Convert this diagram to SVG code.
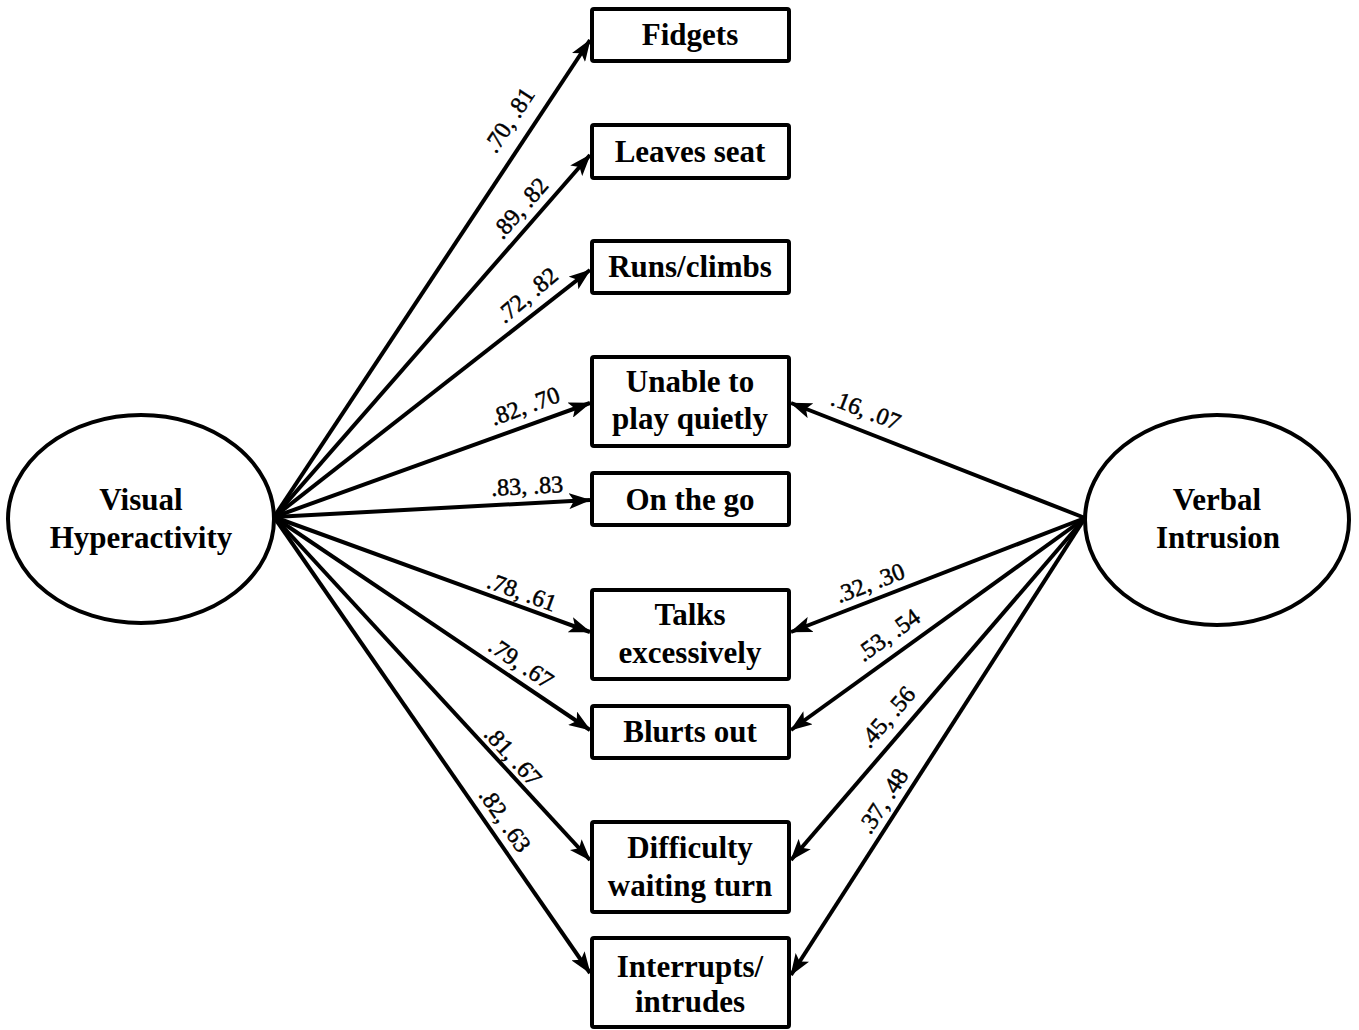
<svg xmlns="http://www.w3.org/2000/svg" width="1359" height="1030" viewBox="0 0 1359 1030">
<style>
.box{fill:#fff;stroke:#000;stroke-width:4}
.ell{fill:#fff;stroke:#000;stroke-width:4}
.nt{font-family:"Liberation Serif","Times New Roman",serif;font-weight:bold;font-size:31px;text-anchor:middle;fill:#000}
.lb{font-family:"Liberation Serif","Times New Roman",serif;font-size:24px;text-anchor:middle;fill:#000;stroke:#000;stroke-width:0.5}
.ln{stroke:#000;stroke-width:4;fill:none;marker-end:url(#ah)}
</style>
<defs>
<marker id="ah" markerUnits="userSpaceOnUse" markerWidth="22" markerHeight="16" refX="21" refY="8" orient="auto">
<path d="M0,0 L22,8 L0,16 L5,8 Z" fill="#000"/>
</marker>
</defs>
<rect width="1359" height="1030" fill="#fff"/>
<g id="connectors">
<line class="ln" x1="274" y1="517" x2="590" y2="40"/>
<line class="ln" x1="274" y1="517" x2="590" y2="155"/>
<line class="ln" x1="274" y1="517" x2="590" y2="270"/>
<line class="ln" x1="274" y1="517" x2="590" y2="403"/>
<line class="ln" x1="274" y1="517" x2="590" y2="500"/>
<line class="ln" x1="274" y1="517" x2="590" y2="632"/>
<line class="ln" x1="274" y1="517" x2="590" y2="730"/>
<line class="ln" x1="274" y1="517" x2="590" y2="860"/>
<line class="ln" x1="274" y1="517" x2="590" y2="973"/>
<line class="ln" x1="1085" y1="518" x2="791" y2="403"/>
<line class="ln" x1="1085" y1="518" x2="791" y2="632"/>
<line class="ln" x1="1085" y1="518" x2="791" y2="730"/>
<line class="ln" x1="1085" y1="518" x2="791" y2="860"/>
<line class="ln" x1="1085" y1="518" x2="791" y2="975"/>
<g id="labels">
<text class="lb" transform="translate(509,120) rotate(-56.6)" y="8">.70, .81</text>
<text class="lb" transform="translate(520,208) rotate(-49)" y="8">.89, .82</text>
<text class="lb" transform="translate(527,295) rotate(-40)" y="8">.72, .82</text>
<text class="lb" transform="translate(525,406) rotate(-19.9)" y="8">.82, .70</text>
<text class="lb" transform="translate(527,486) rotate(-3.1)" y="8">.83, .83</text>
<text class="lb" transform="translate(522,592) rotate(20)" y="8">.78, .61</text>
<text class="lb" transform="translate(521,663) rotate(34)" y="8">.79, .67</text>
<text class="lb" transform="translate(513,756) rotate(47.4)" y="8">.81, .67</text>
<text class="lb" transform="translate(505,820) rotate(55.4)" y="8">.82, .63</text>
<text class="lb" transform="translate(866,410) rotate(21.3)" y="8">.16, .07</text>
<text class="lb" transform="translate(870,583) rotate(-21)" y="8">.32, .30</text>
<text class="lb" transform="translate(888,635) rotate(-35.7)" y="8">.53, .54</text>
<text class="lb" transform="translate(887,717) rotate(-49.2)" y="8">.45, .56</text>
<text class="lb" transform="translate(883,801) rotate(-57.2)" y="8">.37, .48</text>
</g>
</g>
<g id="visual-hyperactivity">
<ellipse class="ell" cx="141" cy="519" rx="133" ry="104"/>
<text class="nt" x="141" y="510">Visual</text>
<text class="nt" x="141" y="548">Hyperactivity</text>
</g>
<g id="verbal-intrusion">
<ellipse class="ell" cx="1217" cy="520" rx="132" ry="105"/>
<text class="nt" x="1217" y="510">Verbal</text>
<text class="nt" x="1218" y="548">Intrusion</text>
</g>
<g id="fidgets">
<rect class="box" x="592" y="9" width="197" height="52" rx="2"/>
<text class="nt" x="690" y="45">Fidgets</text>
</g>
<g id="leaves-seat">
<rect class="box" x="592" y="125" width="197" height="53" rx="2"/>
<text class="nt" x="690" y="162">Leaves seat</text>
</g>
<g id="runs-climbs">
<rect class="box" x="592" y="241" width="197" height="52" rx="2"/>
<text class="nt" x="690" y="277">Runs/climbs</text>
</g>
<g id="unable-to-play-quietly">
<rect class="box" x="592" y="357" width="197" height="89" rx="2"/>
<text class="nt" x="690" y="392">Unable to</text>
<text class="nt" x="690" y="429">play quietly</text>
</g>
<g id="on-the-go">
<rect class="box" x="592" y="473" width="197" height="52" rx="2"/>
<text class="nt" x="690" y="510">On the go</text>
</g>
<g id="talks-excessively">
<rect class="box" x="592" y="590" width="197" height="89" rx="2"/>
<text class="nt" x="690" y="625">Talks</text>
<text class="nt" x="690" y="663">excessively</text>
</g>
<g id="blurts-out">
<rect class="box" x="592" y="706" width="197" height="52" rx="2"/>
<text class="nt" x="690" y="742">Blurts out</text>
</g>
<g id="difficulty-waiting-turn">
<rect class="box" x="592" y="822" width="197" height="90" rx="2"/>
<text class="nt" x="690" y="858">Difficulty</text>
<text class="nt" x="690" y="896">waiting turn</text>
</g>
<g id="interrupts-intrudes">
<rect class="box" x="592" y="938" width="197" height="89" rx="2"/>
<text class="nt" x="690" y="977">Interrupts/</text>
<text class="nt" x="690" y="1012">intrudes</text>
</g>
</svg>
